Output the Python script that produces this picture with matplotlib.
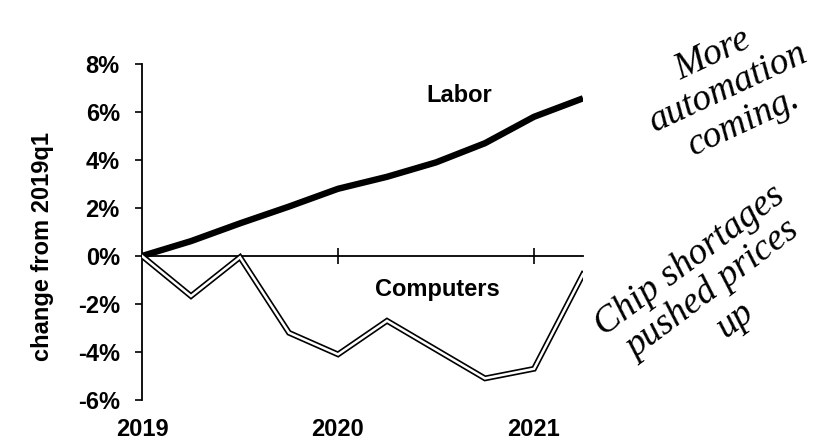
import numpy as np
import matplotlib.pyplot as plt
from matplotlib.ticker import FuncFormatter

# quarterly, 2019q1 .. 2021q2, % change from 2019q1
quarters = [2019.0, 2019.25, 2019.5, 2019.75, 2020.0, 2020.25, 2020.5, 2020.75, 2021.0, 2021.25]
labor = [0.0, 0.62, 1.36, 2.06, 2.8, 3.3, 3.9, 4.7, 5.8, 6.57]
computers = [0.0, -1.67, -0.05, -3.2, -4.1, -2.7, -3.9, -5.1, -4.7, -0.76]
year_ticks = [2019, 2020, 2021]
y_ticks = [-6, -4, -2, 0, 2, 4, 6, 8]

plt.rcParams['font.family'] = ['Liberation Sans', 'DejaVu Sans']
FS = 17

fig = plt.figure(figsize=(8.39, 4.41), dpi=100)
ax = fig.add_axes([142/839, 1 - 400/441, (583 - 142)/839, (400 - 64)/441])

ax.plot(quarters, labor, color='black', lw=4.6, solid_capstyle='butt', zorder=3)
# double line for computers: black outline, white core
ax.plot(quarters, computers, color='black', lw=4.2, solid_joinstyle='miter', zorder=3)
ax.plot(quarters, computers, color='white', lw=1.8, solid_joinstyle='miter', zorder=4)

ax.set_xlim(2019, 2021.25)
ax.set_ylim(-6, 8)
ax.set_yticks(y_ticks)
ax.yaxis.set_major_formatter(FuncFormatter(lambda v, p: f"{v:.0f}%"))
for lab in ax.get_yticklabels():
    lab.set_fontweight('bold')
ax.tick_params(axis='y', direction='out', length=5, width=1.2, labelsize=FS, pad=11)

ax.spines['top'].set_visible(False)
ax.spines['right'].set_visible(False)
ax.spines['left'].set_linewidth(1.3)
ax.spines['bottom'].set_position(('data', 0))
ax.spines['bottom'].set_linewidth(1.3)
ax.set_xticks(year_ticks[1:])
ax.tick_params(axis='x', direction='inout', length=12, width=1.2, labelbottom=False)

# year labels along the bottom
sec = ax.secondary_xaxis(0)
sec.set_xticks(year_ticks)
sec.set_xticklabels([str(y) for y in year_ticks], fontweight='bold', fontsize=FS)
sec.tick_params(length=0, pad=13)
sec.spines['bottom'].set_visible(False)

ax.set_ylabel("change from 2019q1", fontsize=FS, fontweight='bold')
ax.yaxis.set_label_coords(-0.2, 0.458)

ax.text(2020.62, 6.7, "Labor", fontsize=FS, fontweight='bold', ha='center', va='center')
ax.text(2020.505, -1.375, "Computers", fontsize=FS, fontweight='bold', ha='center', va='center')

# handwritten notes
hand = dict(fontsize=27, fontstyle='italic', family='Liberation Serif', ha='center',
            va='center', linespacing=1.1, multialignment='center')
fig.text(728/839, 1 - 88/441, "More\nautomation\ncoming.", rotation=25, **hand)
fig.text(712/839, 1 - 290/441, "Chip shortages\npushed prices\nup", rotation=37, **hand)

fig.savefig("out.png", dpi=100)
